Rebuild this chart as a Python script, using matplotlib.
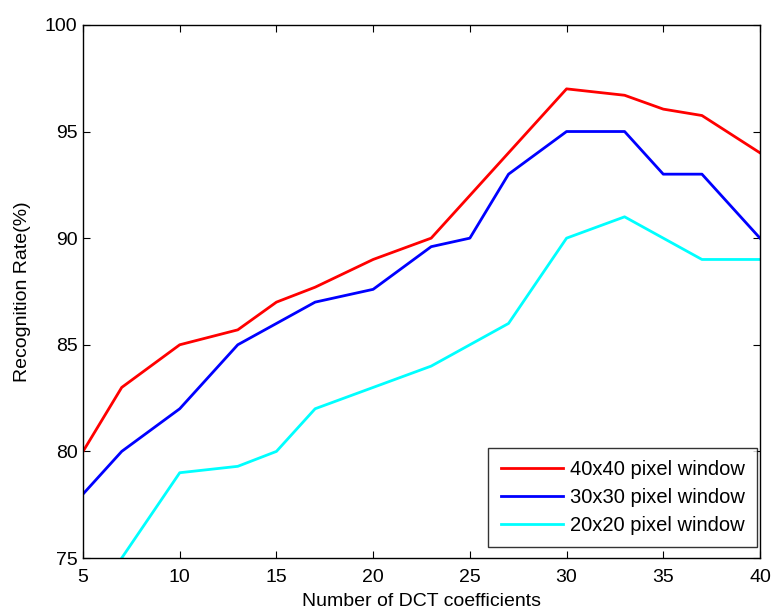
import matplotlib
matplotlib.use("Agg")
import matplotlib.pyplot as plt

plt.rcParams['font.family'] = ['Liberation Sans', 'DejaVu Sans']

x = [5, 7, 10, 13, 15, 17, 20, 23, 25, 27, 30, 33, 35, 37, 40]
red_40 = [80, 83, 85, 85.7, 87, 87.7, 89, 90, 92, 94, 97, 96.7, 96.05, 95.75, 94]
blue_30 = [78, 80, 82, 85, 86, 87, 87.6, 89.6, 90, 93, 95, 95, 93, 93, 90]
cyan_20 = [72.3, 75, 79, 79.3, 80, 82, 83, 84, 85, 86, 90, 91, 90, 89, 89]
labels = ['40x40 pixel window', '30x30 pixel window', '20x20 pixel window']

fig = plt.figure(figsize=(7.71, 6.10), dpi=100)
ax = fig.add_axes([0.1077, 0.0852, 0.878, 0.874])
ax.plot(x, red_40, color='#ff0000', lw=2.0, label=labels[0])
ax.plot(x, blue_30, color='#0000ff', lw=2.0, label=labels[1])
ax.plot(x, cyan_20, color='#00ffff', lw=2.0, label=labels[2])

ax.set_xlim(5, 40)
ax.set_ylim(75, 100)
ax.set_xticks([5, 10, 15, 20, 25, 30, 35, 40])
ax.set_yticks([75, 80, 85, 90, 95, 100])
ax.tick_params(direction='in', top=True, right=True, labelsize=14, length=5, width=0.8)
ax.tick_params(axis='x', pad=8)
ax.tick_params(axis='y', pad=4)
for s in ax.spines.values():
    s.set_linewidth(1.0)
ax.set_xlabel('Number of DCT coefficients', fontsize=14, labelpad=5)
ax.set_ylabel('Recognition Rate(%)', fontsize=14, labelpad=10)

leg = ax.legend(loc='lower right', bbox_to_anchor=(0.9956, 0.0206), fontsize=14.5,
                frameon=True, fancybox=False, edgecolor='black', borderaxespad=0,
                handlelength=3.1, handletextpad=0.35, labelspacing=0.45, borderpad=0.6)
leg.get_frame().set_linewidth(1.0)

fig.savefig('out.png', dpi=100)
